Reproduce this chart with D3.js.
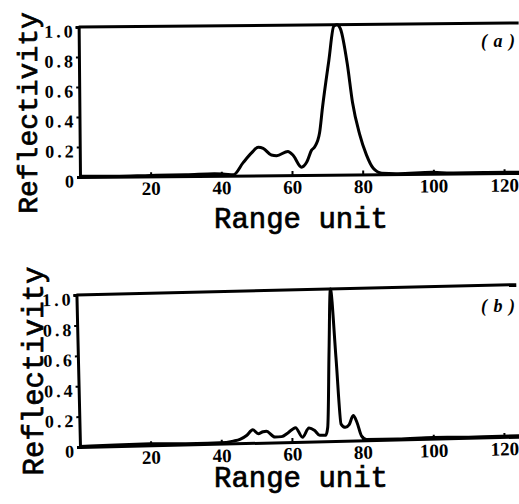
<!DOCTYPE html>
<html>
<head>
<meta charset="utf-8">
<script src="https://cdn.jsdelivr.net/npm/d3@7"></script>
<style>
  body { margin: 0; background: #fff; }
</style>
</head>
<body>
<svg id="chart" width="519" height="504"></svg>
<script>
// range unit / reflectivity
var rangeA = [0, 10, 20, 30, 38, 41, 43.4, 46.2, 48.6, 50.5, 51.9, 54.2, 55.7, 58.9, 60.4, 62.7, 64.2, 65.6, 66.5, 67.9, 68.8, 70.7, 72.2, 73.1, 74.1, 75.9, 77.3, 79.2, 81.1, 83.0, 85.4, 90, 99.6, 105, 115, 125];
var reflA = [0.005, 0.003, 0.006, 0.008, 0.014, 0.01, 0.005, 0.086, 0.15, 0.187, 0.18, 0.135, 0.13, 0.158, 0.13, 0.052, 0.086, 0.165, 0.187, 0.28, 0.45, 0.76, 0.99, 1.0, 0.97, 0.74, 0.48, 0.27, 0.13, 0.04, 0.007, 0.003, 0.01, 0.004, 0.006, 0.005];

var rangeB = [0, 10, 20, 30, 39.6, 43.4, 45.3, 47.2, 49.0, 50.5, 51.9, 52.8, 55.2, 57.1, 58.9, 61.1, 63.0, 64.9, 66.5, 67.9, 69.6, 70.2, 71.1, 71.9, 73.0, 74.0, 75.2, 76.3, 77.5, 78.5, 79.7, 81.1, 90, 100, 110, 125];
var reflB = [0.004, 0.008, 0.01, 0.005, 0.006, 0.015, 0.025, 0.05, 0.086, 0.06, 0.072, 0.075, 0.035, 0.037, 0.06, 0.094, 0.03, 0.09, 0.072, 0.04, 0.04, 0.09, 0.6, 1.0, 0.55, 0.11, 0.088, 0.105, 0.165, 0.12, 0.03, 0.005, 0.003, 0.008, 0.004, 0.006];

var xTicks = [20, 40, 60, 80, 100, 120];
var yTicks = [0, 0.2, 0.4, 0.6, 0.8, 1.0];

var svg = d3.select('#chart');

// each panel: origin at bottom-left corner of the plot, scan is a bit tilted
var panels = [
  { xs: rangeA, ys: reflA, ox: 80, oy: 177, h: 150, tilt: -0.52, tag: 'a',
    ylab: [37, 113, 28], xlab: [301, 228], tagPos: [481, 47] },
  { xs: rangeB, ys: reflB, ox: 80, oy: 447, h: 152, tilt: -1.35, tag: 'b',
    ylab: [43, 371, 29], xlab: [301, 487], tagPos: [481, 312] }
];

panels.forEach(function (p) {
  var x = d3.scaleLinear().domain([0, 124.5]).range([0, 440]);
  var y = d3.scaleLinear().domain([0, 1]).range([0, -p.h]);

  var g = svg.append('g')
    .attr('transform', 'translate(' + p.ox + ',' + p.oy + ') rotate(' + p.tilt + ')');

  var xAxis = g.append('g')
    .call(d3.axisBottom(x).tickValues(xTicks).tickSizeInner(-4).tickSizeOuter(0).tickPadding(5));
  var yAxis = g.append('g')
    .call(d3.axisLeft(y).tickValues(yTicks).tickSize(3).tickPadding(0)
      .tickFormat(function (d) { return d === 0 ? '0' : d3.format('.1f')(d); }));

  [xAxis, yAxis].forEach(function (a) {
    a.select('.domain').attr('stroke', '#000').attr('stroke-width', 3);
    a.selectAll('.tick line').attr('stroke', '#000').attr('stroke-width', 2);
    a.selectAll('.tick text')
      .attr('fill', '#000')
      .attr('font-family', 'Liberation Serif')
      .attr('font-weight', 'bold')
      .attr('font-size', '19px');
  });
  yAxis.selectAll('.tick text')
    .attr('font-size', '18px')
    .attr('dy', '0.55em')
    .attr('letter-spacing', '3px');

  // top frame line
  g.append('line')
    .attr('x1', x(0)).attr('x2', x(124.5))
    .attr('y1', y(1)).attr('y2', y(1))
    .attr('stroke', '#000').attr('stroke-width', 3);

  var line = d3.line()
    .x(function (d, i) { return x(p.xs[i]); })
    .y(function (d) { return y(d); })
    .curve(d3.curveMonotoneX);

  g.append('path')
    .datum(p.ys)
    .attr('d', line)
    .attr('fill', 'none')
    .attr('stroke', '#000')
    .attr('stroke-width', 3)
    .attr('stroke-linejoin', 'round');

  svg.append('text')
    .attr('transform', 'translate(' + p.ylab[0] + ',' + p.ylab[1] + ') rotate(-90)')
    .attr('text-anchor', 'middle')
    .attr('font-family', 'Liberation Mono')
    .attr('font-size', p.ylab[2] + 'px')
    .attr('stroke', '#000')
    .attr('stroke-width', 0.7)
    .text('Reflectivity');

  svg.append('text')
    .attr('x', p.xlab[0]).attr('y', p.xlab[1])
    .attr('text-anchor', 'middle')
    .attr('font-family', 'Liberation Mono')
    .attr('font-size', '29px')
    .attr('stroke', '#000')
    .attr('stroke-width', 0.7)
    .text('Range unit');

  svg.append('text')
    .attr('x', p.tagPos[0]).attr('y', p.tagPos[1])
    .attr('font-family', 'Liberation Serif')
    .attr('font-weight', 'bold')
    .attr('font-style', 'italic')
    .attr('font-size', '18px')
    .attr('letter-spacing', '1px')
    .text('( ' + p.tag + ' )');
});
</script>
</body>
</html>
